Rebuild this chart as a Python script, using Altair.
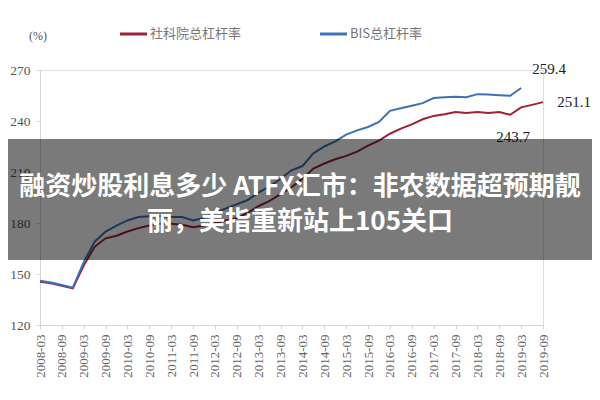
import altair as alt
import pandas as pd

quarters = [
    "2008-03", "2008-06", "2008-09", "2008-12", "2009-03", "2009-06", "2009-09", "2009-12",
    "2010-03", "2010-06", "2010-09", "2010-12", "2011-03", "2011-06", "2011-09", "2011-12",
    "2012-03", "2012-06", "2012-09", "2012-12", "2013-03", "2013-06", "2013-09", "2013-12",
    "2014-03", "2014-06", "2014-09", "2014-12", "2015-03", "2015-06", "2015-09", "2015-12",
    "2016-03", "2016-06", "2016-09", "2016-12", "2017-03", "2017-06", "2017-09", "2017-12",
    "2018-03", "2018-06", "2018-09", "2018-12", "2019-03", "2019-06", "2019-09",
]
tick_labels = quarters[::2]

cass = [
    145.5, 144.5, 143.0, 141.5, 155.0, 166.0, 171.0, 172.5,
    175.0, 177.0, 178.5, 179.5, 179.5, 179.0, 177.5, 178.5,
    180.0, 181.5, 183.0, 186.0, 190.0, 193.0, 197.0, 201.0,
    206.0, 212.0, 215.0, 217.5, 219.5, 222.0, 225.5, 228.5,
    232.5, 235.5, 238.0, 241.0, 243.0, 244.0, 245.3, 244.7,
    245.3, 244.7, 245.3, 243.7, 248.0, 249.5, 251.1,
]
bis = [
    146.0, 145.0, 143.5, 142.0, 157.0, 169.0, 175.0, 178.5,
    181.5, 183.5, 184.0, 184.0, 183.5, 183.5, 181.5, 183.0,
    186.0, 188.5, 191.0, 193.5, 198.0, 201.5, 206.0, 211.0,
    213.5, 221.0, 225.0, 228.0, 232.0, 234.5, 236.5, 239.5,
    246.0, 247.5, 249.0, 250.5, 253.5, 254.0, 254.2, 254.0,
    255.8, 255.6, 255.2, 254.8, 259.4,
]
series_names = ["社科院总杠杆率", "BIS总杠杆率"]
colors = ["#9c2236", "#3b72b5"]

ann_quarter = ["2019-03", "2019-09", "2018-12"]
ann_value = [259.4, 251.1, 243.7]
ann_offset = [(28, -19), (31, 0), (3, 22)]

overlay_lines = ["融资炒股利息多少 ATFX汇市：非农数据超预期靓", "丽，美指重新站上105关口"]

rows = []
for q, v in zip(quarters, cass):
    rows.append({"q": q, "v": v, "s": series_names[0]})
for q, v in zip(quarters, bis):
    rows.append({"q": q, "v": v, "s": series_names[1]})
df = pd.DataFrame(rows)

W, H = 503, 255

xscale = alt.Scale(domain=quarters, type="point", padding=0)
yscale = alt.Scale(domain=[120, 270], nice=False, zero=False)

base = alt.Chart(df)

def line_for(name, color):
    return base.transform_filter(alt.datum.s == name).mark_line(
        color=color, strokeWidth=2
    ).encode(
        x=alt.X("q:O", scale=xscale, sort=quarters, title=None,
                axis=alt.Axis(values=tick_labels, labelAngle=270, labelFont="Liberation Serif",
                              labelFontSize=13, labelColor="#666", domainColor="#d6d6d6",
                              tickColor="#d6d6d6", tickSize=4, labelPadding=5, grid=False,
                              labelBaseline="middle")),
        y=alt.Y("v:Q", scale=yscale, title=None,
                axis=alt.Axis(values=[120, 150, 180, 210, 240, 270], labelFont="Liberation Serif",
                              labelFontSize=13.5, labelColor="#555", domainColor="#d6d6d6",
                              tickColor="#d6d6d6", tickSize=4, labelPadding=6, grid=False)),
    )

layers = [line_for(series_names[0], colors[0]), line_for(series_names[1], colors[1])]

ann_df = pd.DataFrame({"q": ann_quarter, "v": ann_value, "t": [f"{v:.1f}" for v in ann_value]})
for q, (dx, dy) in zip(ann_quarter, ann_offset):
    layers.append(
        alt.Chart(ann_df).transform_filter(alt.datum.q == q).mark_text(
            font="Liberation Serif", fontSize=15, color="#222", dx=dx, dy=dy
        ).encode(x=alt.X("q:O", scale=xscale, sort=quarters), y=alt.Y("v:Q", scale=yscale), text="t:N")
    )

# legend
leg = pd.DataFrame({"s": series_names, "c": colors})
for i, name in enumerate(series_names):
    x0 = [80, 280][i]
    layers.append(
        alt.Chart(leg).transform_filter(alt.datum.s == name).mark_rule(color=colors[i], strokeWidth=3).encode(
            x=alt.value(x0), x2=alt.value(x0 + 27), y=alt.value(-36)
        )
    )
    layers.append(
        alt.Chart(leg).transform_filter(alt.datum.s == name).mark_text(
            font="Noto Sans CJK SC", fontSize=13, color="#777", align="left", baseline="middle"
        ).encode(x=alt.value(x0 + 30), y=alt.value(-36), text="s:N")
    )

unit_df = pd.DataFrame({"t": ["(%)"]})
layers.append(
    alt.Chart(unit_df).mark_text(font="Liberation Serif", fontSize=12, color="#555").encode(
        x=alt.value(-2), y=alt.value(-34), text="t:N"
    )
)

# overlay band with headline
band_df = pd.DataFrame({"k": [1]})
layers.append(
    alt.Chart(band_df).mark_rect(color="#000", opacity=0.52).encode(
        x=alt.value(-40), x2=alt.value(560), y=alt.value(69), y2=alt.value(190)
    )
)
ov_df = pd.DataFrame({"t": overlay_lines, "row": [0, 1]})
for i, ypos in enumerate([117, 152]):
    layers.append(
        alt.Chart(ov_df).transform_filter(alt.datum.row == i).mark_text(
            font="Noto Sans CJK SC", fontSize=26, fontWeight="bold", color="white",
            align="center", baseline="middle"
        ).encode(x=alt.value(260), y=alt.value(ypos), text="t:N")
    )

chart = alt.layer(*layers).properties(
    width=W, height=H,
    autosize=alt.AutoSizeParams(type="none"),
    padding={"left": 32, "top": 62, "right": 49, "bottom": 67},
).configure_view(stroke=None).configure(background="white")

chart.save("out.html", embed_options={"renderer": "svg", "actions": False})
